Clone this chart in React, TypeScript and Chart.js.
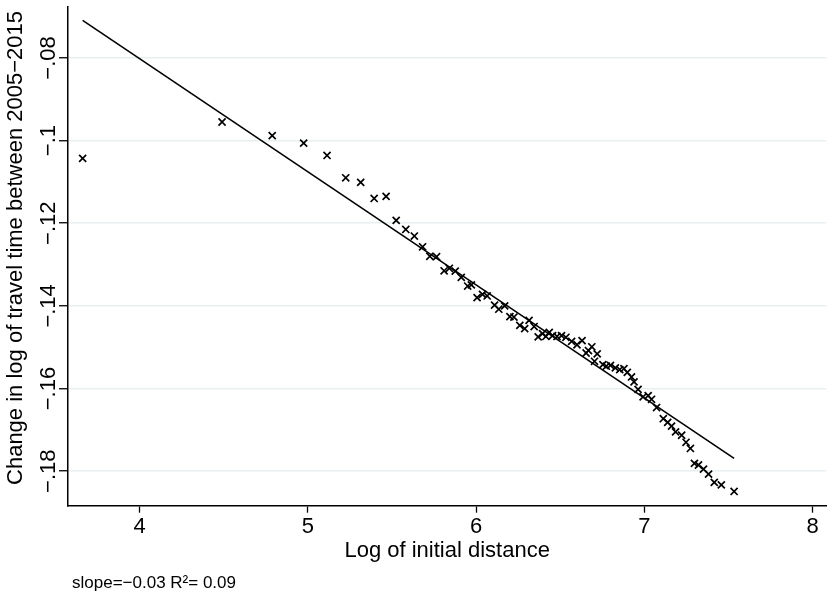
import { useEffect, useRef } from "react";
import { Chart, registerables } from "chart.js";

Chart.register(...registerables);

const X_VALUES = [
  3.661, 4.49, 4.788, 4.975, 5.114, 5.225, 5.314, 5.394, 5.465, 5.525, 5.582, 5.633, 5.682, 5.725, 5.765,
  5.81, 5.841, 5.876, 5.912, 5.95, 5.972, 6.006, 6.038, 6.066, 6.11, 6.135, 6.17, 6.201, 6.225, 6.26,
  6.289, 6.315, 6.345, 6.369, 6.395, 6.415, 6.435, 6.455, 6.481, 6.508, 6.534, 6.568, 6.6, 6.63, 6.654,
  6.668, 6.688, 6.704, 6.72, 6.754, 6.774, 6.799, 6.828, 6.854, 6.879, 6.899, 6.924, 6.939, 6.963, 6.993,
  7.023, 7.043, 7.073, 7.113, 7.139, 7.162, 7.186, 7.222, 7.248, 7.274, 7.298, 7.322, 7.352, 7.382, 7.416,
  7.458, 7.534,
];
const Y_VALUES = [
  -0.1043, -0.0955, -0.0988, -0.1006, -0.1036, -0.109, -0.1101, -0.114, -0.1135, -0.1193, -0.1215, -0.1231,
  -0.1257, -0.128, -0.1281, -0.1315, -0.1309, -0.1316, -0.1331, -0.1352, -0.1349, -0.138, -0.1372, -0.1376,
  -0.1398, -0.1408, -0.14, -0.1426, -0.1427, -0.1447, -0.1455, -0.1435, -0.145, -0.1475, -0.1467, -0.1474,
  -0.1464, -0.1472, -0.1474, -0.1472, -0.1476, -0.1486, -0.1494, -0.1484, -0.1514, -0.1508, -0.1499,
  -0.1534, -0.1516, -0.1542, -0.1546, -0.1544, -0.155, -0.1554, -0.1552, -0.1561, -0.1572, -0.1584,
  -0.1602, -0.162, -0.1617, -0.1626, -0.1646, -0.1673, -0.1682, -0.1691, -0.1705, -0.1713, -0.173,
  -0.1745, -0.1781, -0.1785, -0.1795, -0.1807, -0.1827, -0.1833, -0.1849,
];
const FIT_X = [3.661, 7.534];
const FIT_Y = [-0.0709, -0.1769];

const X_TICKS = [4, 5, 6, 7, 8];
const Y_TICKS = [-0.18, -0.16, -0.14, -0.12, -0.1, -0.08];
const Y_TICK_LABELS = ["−.18", "−.16", "−.14", "−.12", "−.1", "−.08"];
const X_TITLE = "Log of initial distance";
const Y_TITLE = "Change in log of travel time between 2005−2015";
const NOTE = "slope=−0.03 R²= 0.09";

const X_MIN = 3.574;
const X_MAX = 8.082;
const Y_MIN = -0.18835;
const Y_MAX = -0.0676;

const FONT = "'Liberation Sans', Arial, Helvetica, sans-serif";

const textPlugin = {
  id: "stataText",
  afterDraw(chart: any) {
    const ctx = chart.ctx;
    const ys = chart.scales.y;
    ctx.save();
    ctx.fillStyle = "#000";
    ctx.font = `22px ${FONT}`;
    ctx.textAlign = "center";
    ctx.textBaseline = "middle";
    Y_TICKS.forEach((v, i) => {
      const py = ys.getPixelForValue(v);
      ctx.save();
      ctx.translate(49, py);
      ctx.rotate(-Math.PI / 2);
      ctx.fillText(Y_TICK_LABELS[i], 0, 0);
      ctx.restore();
    });
    ctx.save();
    ctx.translate(16, 248);
    ctx.rotate(-Math.PI / 2);
    ctx.fillText(Y_TITLE, 0, 0);
    ctx.restore();
    ctx.font = `17px ${FONT}`;
    ctx.textAlign = "left";
    ctx.fillText(NOTE, 72, 583);
    ctx.restore();
  },
};

export default function App() {
  const ref = useRef<HTMLCanvasElement | null>(null);
  useEffect(() => {
    if (!ref.current) return;
    const chart = new Chart(ref.current, {
      type: "scatter",
      data: {
        datasets: [
          {
            data: X_VALUES.map((x, i) => ({ x, y: Y_VALUES[i] })),
            pointStyle: "crossRot",
            pointRadius: 5,
            pointHoverRadius: 5,
            borderColor: "#000",
            backgroundColor: "#000",
            borderWidth: 1.7,
            showLine: false,
          },
          {
            data: FIT_X.map((x, i) => ({ x, y: FIT_Y[i] })),
            showLine: true,
            pointRadius: 0,
            borderColor: "#000",
            borderWidth: 1.6,
            fill: false,
          },
        ],
      } as any,
      options: {
        animation: false,
        responsive: false,
        layout: { padding: { top: 5, left: 0, right: 0, bottom: 28.3 } },
        plugins: { legend: { display: false }, tooltip: { enabled: false } },
        scales: {
          x: {
            type: "linear",
            min: X_MIN,
            max: X_MAX,
            afterBuildTicks: (s: any) => {
              s.ticks = X_TICKS.map((v) => ({ value: v }));
            },
            afterFit: (s: any) => {
              s.height = 58;
              s.paddingLeft = 0;
              s.paddingRight = 0;
            },
            ticks: {
              color: "#000",
              font: { size: 22, family: FONT },
              padding: 1,
              maxRotation: 0,
              minRotation: 0,
              callback: (v: any) => String(v),
            },
            grid: {
              drawOnChartArea: false,
              drawTicks: true,
              tickLength: 7,
              tickColor: "#000",
              tickWidth: 1.3,
            },
            border: { display: true, color: "#000", width: 1.5 },
            title: {
              display: true,
              text: X_TITLE,
              color: "#000",
              font: { size: 22, family: FONT },
              padding: { top: 0, bottom: 0 },
            },
          },
          y: {
            type: "linear",
            min: Y_MIN,
            max: Y_MAX,
            afterBuildTicks: (s: any) => {
              s.ticks = Y_TICKS.map((v) => ({ value: v }));
            },
            afterFit: (s: any) => {
              s.width = 68;
              s.paddingTop = 0;
              s.paddingBottom = 0;
            },
            ticks: { display: false },
            grid: {
              color: "#e8eff1",
              lineWidth: 1.5,
              drawTicks: true,
              tickLength: 9,
              tickColor: "#000",
              tickWidth: 1.3,
            },
            border: { display: true, color: "#000", width: 1.5 },
          },
        },
      } as any,
      plugins: [textPlugin],
    });
    return () => chart.destroy();
  }, []);
  return (
    <div style={{ position: "absolute", left: 0, top: 0, width: 833, height: 592, background: "#fff" }}>
      <canvas ref={ref} width={833} height={592} style={{ display: "block" }} />
    </div>
  );
}
